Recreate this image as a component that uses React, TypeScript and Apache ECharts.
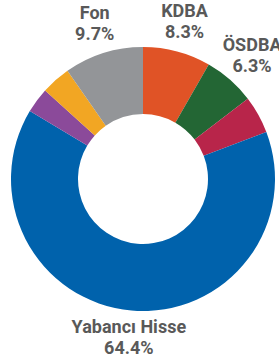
import React, { useEffect, useRef } from "react";
import * as echarts from "echarts";

const categories = ["KDBA", "ÖSDBA", "Diğer", "Yabancı Hisse", "Eurobond", "Altın", "Fon"];
const values = [8.3, 6.3, 4.6, 64.4, 3.1, 3.6, 9.7];
const colors = ["#E05326", "#236634", "#B8254A", "#0062AC", "#8B4A9A", "#F2A623", "#939598"];
const showLabel = [true, true, false, true, false, false, true];

export default function App() {
  const ref = useRef<HTMLDivElement>(null);
  useEffect(() => {
    if (!ref.current) return;
    const chart = echarts.init(ref.current, null, { renderer: "svg" });
    const ringData = categories.map((name, i) => ({
      name,
      value: values[i],
      itemStyle: { color: colors[i] },
    }));
    const labelData = categories.map((name, i) => ({
      name,
      value: values[i],
      itemStyle: { color: "rgba(0,0,0,0)" },
      label: {
        show: showLabel[i],
        ...(name === "ÖSDBA" ? { offset: [3, -1] } : {}),
      },
    }));
    chart.setOption({
      animation: false,
      series: [
        {
          type: "pie",
          center: [143, 179],
          radius: [65, 132],
          startAngle: 90,
          clockwise: true,
          silent: true,
          label: { show: false },
          labelLine: { show: false },
          data: ringData,
        },
        {
          type: "pie",
          center: [143, 177],
          radius: [148, 168],
          startAngle: 90,
          clockwise: true,
          silent: true,
          labelLine: { show: false },
          label: {
            position: "inside",
            formatter: "{b}\n{c}%",
            color: "#595959",
            fontFamily: "Roboto",
            fontWeight: "bold",
            fontSize: 18,
            lineHeight: 21,
            align: "center",
          },
          data: labelData,
        },
      ],
    });
    return () => chart.dispose();
  }, []);
  return (
    <div
      ref={ref}
      style={{ position: "fixed", left: 0, top: 0, width: 279, height: 360, background: "#fff" }}
    />
  );
}
